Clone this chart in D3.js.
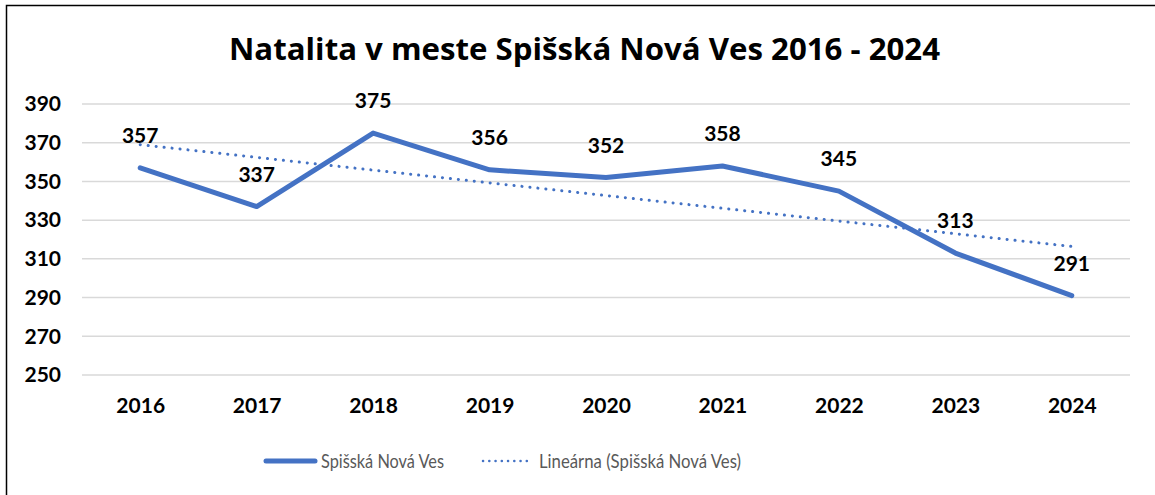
<!DOCTYPE html>
<html>
<head>
<meta charset="utf-8">
<script src="https://cdn.jsdelivr.net/npm/d3@7"></script>
<style>
  body { margin: 0; background: #fff; }
  svg text { font-family: Lato, "Open Sans", sans-serif; }
</style>
</head>
<body>
<div id="chart"></div>
<script>
// data
var years = ["2016", "2017", "2018", "2019", "2020", "2021", "2022", "2023", "2024"];
var births = [357, 337, 375, 356, 352, 358, 345, 313, 291];
var trendEnds = [369, 316.4]; // Excel linear trendline, first and last year
var yTicks = [250, 270, 290, 310, 330, 350, 370, 390];

var width = 1155, height = 495;
var margin = {top: 104, right: 25, bottom: 120, left: 82};

var svg = d3.select("#chart").append("svg")
    .attr("width", width)
    .attr("height", height);

// chart frame
svg.append("rect")
    .attr("x", 6.5).attr("y", 5.5)
    .attr("width", width + 10).attr("height", height + 10)
    .attr("fill", "none")
    .attr("stroke", "#000")
    .attr("stroke-width", 1.5);

svg.append("text")
    .attr("x", 229).attr("y", 60)
    .attr("font-size", 30)
    .attr("font-weight", "bold")
    .attr("fill", "#000")
    .attr("textLength", 711)
    .attr("lengthAdjust", "spacingAndGlyphs")
    .style("font-family", "'Open Sans', sans-serif")
    .text("Natalita v meste Spišská Nová Ves 2016 - 2024");

var x = d3.scalePoint()
    .domain(years)
    .range([margin.left, 1130])
    .padding(0.5);

var y = d3.scaleLinear()
    .domain([250, 390])
    .range([375, margin.top]);

// gridlines
svg.append("g")
  .selectAll("line")
  .data(yTicks)
  .enter().append("line")
    .attr("x1", margin.left).attr("x2", 1130)
    .attr("y1", function(d) { return y(d); })
    .attr("y2", function(d) { return y(d); })
    .attr("stroke", "#d9d9d9")
    .attr("stroke-width", 1.5);

var yAxis = svg.append("g")
    .attr("transform", "translate(61,0)")
    .call(d3.axisLeft(y).tickValues(yTicks).tickSize(0).tickPadding(0));
yAxis.select(".domain").remove();
yAxis.selectAll("text")
    .attr("font-size", 21)
    .attr("font-weight", "bold")
    .attr("fill", "#000")
    .style("font-family", "Lato, sans-serif");

var xAxis = svg.append("g")
    .attr("transform", "translate(0,398)")
    .call(d3.axisBottom(x).tickSize(0).tickPadding(0));
xAxis.select(".domain").remove();
xAxis.selectAll("text")
    .attr("font-size", 21)
    .attr("font-weight", "bold")
    .attr("fill", "#000")
    .style("font-family", "Lato, sans-serif");

var blue = "#4472c4";

var line = d3.line()
    .x(function(d, i) { return x(years[i]); })
    .y(function(d) { return y(d); });

svg.append("path")
    .datum(births)
    .attr("d", line)
    .attr("fill", "none")
    .attr("stroke", blue)
    .attr("stroke-width", 5)
    .attr("stroke-linejoin", "round")
    .attr("stroke-linecap", "round");

// trendline
svg.append("line")
    .attr("x1", x(years[0])).attr("y1", y(trendEnds[0]))
    .attr("x2", x(years[years.length - 1])).attr("y2", y(trendEnds[1]))
    .attr("stroke", blue)
    .attr("stroke-width", 3)
    .attr("stroke-linecap", "round")
    .attr("stroke-dasharray", "0.1 7.9");

// data labels
svg.append("g")
  .selectAll("text")
  .data(births)
  .enter().append("text")
    .attr("x", function(d, i) { return x(years[i]); })
    .attr("y", function(d) { return y(d) - 25; })
    .attr("text-anchor", "middle")
    .attr("font-size", 21)
    .attr("font-weight", "bold")
    .attr("fill", "#000")
    .text(function(d) { return d; });

// legend
var legend = svg.append("g").attr("transform", "translate(0,461)");
legend.append("line")
    .attr("x1", 266).attr("x2", 315)
    .attr("stroke", blue).attr("stroke-width", 5)
    .attr("stroke-linecap", "round");
legend.append("text")
    .attr("x", 321).attr("y", 7)
    .attr("font-size", 19).attr("fill", "#595959")
    .attr("textLength", 123).attr("lengthAdjust", "spacingAndGlyphs")
    .text("Spišská Nová Ves");
legend.append("line")
    .attr("x1", 483).attr("x2", 533)
    .attr("stroke", blue).attr("stroke-width", 2.5)
    .attr("stroke-linecap", "round")
    .attr("stroke-dasharray", "0.1 6.15");
legend.append("text")
    .attr("x", 539).attr("y", 7)
    .attr("font-size", 19).attr("fill", "#595959")
    .attr("textLength", 202).attr("lengthAdjust", "spacingAndGlyphs")
    .text("Lineárna (Spišská Nová Ves)");
</script>
</body>
</html>
